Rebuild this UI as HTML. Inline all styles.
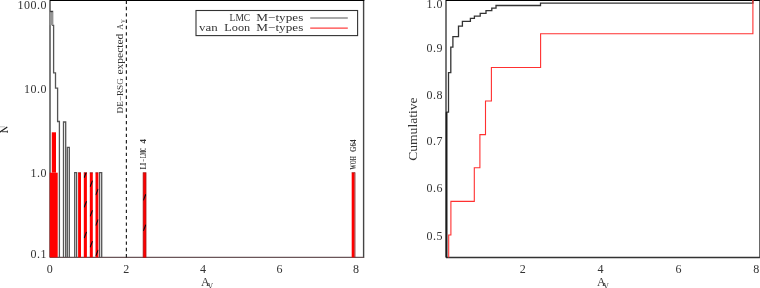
<!DOCTYPE html>
<html><head><meta charset="utf-8"><style>
html,body{margin:0;padding:0;background:#fff;width:760px;height:288px;overflow:hidden}
svg{display:block;position:absolute;left:0;top:0}
.t{filter:grayscale(1)}
text{font-family:"Liberation Serif", serif;fill:#333}
</style></head><body>
<svg width="760" height="288" viewBox="0 0 760 288">
<defs><clipPath id="hc"><rect x="83.8" y="172.7" width="3.10" height="84.70"/><rect x="89.8" y="172.7" width="3.00" height="84.70"/><rect x="95.5" y="172.7" width="2.90" height="84.70"/><rect x="143.15" y="172.7" width="2.85" height="84.70"/></clipPath></defs>
<rect width="760" height="288" fill="#fff"/>
<line x1="50.0" y1="0" x2="50.0" y2="257.4" stroke="#6e6e6e" stroke-width="1.8"/>
<line x1="363.6" y1="0" x2="363.6" y2="257.9" stroke="#444" stroke-width="1.4"/>
<line x1="50.0" y1="0.4" x2="364.3" y2="0.4" stroke="#000" stroke-width="1.4"/>
<line x1="50.0" y1="257.4" x2="363.6" y2="257.4" stroke="#6a5558" stroke-width="1.2"/>
<path d="M50,11.5 H52.6 V25.4 H53.6 V72.8 H55.5 V88.2 H57.6 V121.5 H59.4 V257.4" fill="none" stroke="#555" stroke-width="1.3"/>
<path d="M63.5,257.4 V122.0 H65.7 V257.4" fill="none" stroke="#555" stroke-width="1.3"/>
<path d="M67.3,257.4 V147.3 H69.3 V257.4" fill="none" stroke="#555" stroke-width="1.3"/>
<path d="M74.7,257.4 V172.6 H76.6 V257.4" fill="none" stroke="#555" stroke-width="1.3"/>
<path d="M99.6,257.4 V172.6 H101.7 V257.4" fill="none" stroke="#555" stroke-width="1.3"/>
<rect x="49.6" y="11.6" width="3.4" height="13.6" fill="#949494"/>
<line x1="50.2" y1="11.6" x2="52.8" y2="11.6" stroke="#333" stroke-width="1.1"/>
<rect x="49.75" y="172.7" width="7.95" height="84.70" fill="#ff0000"/>
<rect x="51.8" y="132.3" width="4.2" height="40.40" fill="#ff0000"/>
<rect x="78.1" y="172.7" width="2.90" height="84.70" fill="#ff0000"/>
<line x1="78.1" y1="172.75" x2="81.0" y2="172.75" stroke="#a01010" stroke-width="0.8"/>
<rect x="83.8" y="172.7" width="3.10" height="84.70" fill="#ff0000"/>
<line x1="83.8" y1="172.75" x2="86.9" y2="172.75" stroke="#a01010" stroke-width="0.8"/>
<rect x="89.8" y="172.7" width="3.00" height="84.70" fill="#ff0000"/>
<line x1="89.8" y1="172.75" x2="92.8" y2="172.75" stroke="#a01010" stroke-width="0.8"/>
<rect x="95.5" y="172.7" width="2.90" height="84.70" fill="#ff0000"/>
<line x1="95.5" y1="172.75" x2="98.4" y2="172.75" stroke="#a01010" stroke-width="0.8"/>
<rect x="143.15" y="172.75" width="2.85" height="84.65" fill="#ff0000" stroke="#a81414" stroke-width="0.8"/>
<rect x="351.7" y="172.7" width="2.85" height="84.70" fill="#ff0000"/>
<line x1="354.95" y1="172.4" x2="354.95" y2="257.4" stroke="#8a2020" stroke-width="0.9"/>
<line x1="351.7" y1="172.7" x2="354.9" y2="172.7" stroke="#a01010" stroke-width="0.8"/>
<g clip-path="url(#hc)" stroke="#0a0a10" stroke-width="1.15"><line x1="84.10" y1="177.70" x2="86.60" y2="171.50"/><line x1="84.10" y1="207.40" x2="86.60" y2="201.20"/><line x1="84.10" y1="238.10" x2="86.60" y2="231.90"/><line x1="90.05" y1="186.80" x2="92.55" y2="180.60"/><line x1="90.05" y1="216.40" x2="92.55" y2="210.20"/><line x1="90.05" y1="247.30" x2="92.55" y2="241.10"/><line x1="95.70" y1="195.10" x2="98.20" y2="188.90"/><line x1="95.70" y1="225.60" x2="98.20" y2="219.40"/><line x1="95.70" y1="256.10" x2="98.20" y2="249.90"/><line x1="143.32" y1="200.40" x2="145.82" y2="194.20"/><line x1="143.32" y1="230.90" x2="145.82" y2="224.70"/></g>
<path d="M-0.3,126.8 H5.0" stroke="#b8b8b8" stroke-width="0.9" fill="none"/>
<path d="M-0.5,132.4 L7.3,127.1" stroke="#222" stroke-width="1.25" fill="none"/>
<path d="M1.8,131.7 H7.6 M7.4,130.5 V132.8" stroke="#333" stroke-width="0.9" fill="none"/>
<line x1="126.4" y1="0.5" x2="126.4" y2="257.4" stroke="#222" stroke-width="1.2" stroke-dasharray="3.4 2.94"/>
<rect x="196" y="10.5" width="161.6" height="25.1" fill="#fff" stroke="#333" stroke-width="1.1"/>
<line x1="310.2" y1="18.0" x2="347.8" y2="18.0" stroke="#555" stroke-width="1.2"/>
<line x1="310.2" y1="28.1" x2="347.8" y2="28.1" stroke="#ff4040" stroke-width="1.2"/>
<line x1="446.0" y1="0" x2="446.0" y2="257.5" stroke="#555" stroke-width="1.6"/>
<line x1="759.9" y1="0" x2="759.9" y2="258.0" stroke="#444" stroke-width="1.4"/>
<line x1="446.0" y1="0.4" x2="759.9" y2="0.4" stroke="#000" stroke-width="1.4"/>
<line x1="446.0" y1="257.5" x2="759.9" y2="257.5" stroke="#333" stroke-width="1.3"/>
<path d="M446.7,257.5 V112.2 H448.5 V72.7 H450.8 V47.2 H452.9 V36.7 H458.5 V26.2 H462.4 V21.4 H470.4 V18.4 H474.4 V16.1 H480.2 V13.4 H486 V10.7 H491.8 V8.1 H496 V5.5 H540.5 V3.1 H752.9 V0.3" fill="none" stroke="#333" stroke-width="1.3"/>
<line x1="446.5" y1="112.2" x2="446.5" y2="257.5" stroke="#1a1a1a" stroke-width="1.5"/>
<path d="M448.7,257.5 V235 H450.9 V201.4 H474.3 V167.8 H479.9 V134.6 H485.5 V101.0 H491.4 V67.5 H540.6 V33.7 H752.9 V0" fill="none" stroke="#ff3030" stroke-width="1.1"/>
</svg>
<svg class="t" width="760" height="288" viewBox="0 0 760 288">
<text transform="translate(229.60,20.80)" font-size="11.4" text-anchor="start" textLength="20.6" lengthAdjust="spacingAndGlyphs">LMC</text>
<text transform="translate(256.30,20.80)" font-size="11.4" text-anchor="start" textLength="47.0" lengthAdjust="spacingAndGlyphs">M−types</text>
<text transform="translate(199.10,30.80)" font-size="11.4" text-anchor="start" textLength="18.6" lengthAdjust="spacingAndGlyphs">van</text>
<text transform="translate(224.30,30.80)" font-size="11.4" text-anchor="start" textLength="25.9" lengthAdjust="spacingAndGlyphs">Loon</text>
<text transform="translate(256.30,30.80)" font-size="11.4" text-anchor="start" textLength="47.0" lengthAdjust="spacingAndGlyphs">M−types</text>
<text transform="translate(122.80,113.40) rotate(-90)" font-size="9" text-anchor="start" fill="#1e1e1e" textLength="35.2" lengthAdjust="spacingAndGlyphs">DE−RSG</text>
<text transform="translate(122.90,74.60) rotate(-90)" font-size="9.3" text-anchor="start" fill="#1e1e1e" textLength="41.0" lengthAdjust="spacingAndGlyphs">expected</text>
<text transform="translate(122.80,29.80) rotate(-90)" font-size="9" text-anchor="start" fill="#1e1e1e" textLength="5.8" lengthAdjust="spacingAndGlyphs">A</text>
<text transform="translate(125.10,22.90) rotate(-90)" font-size="5.2" text-anchor="start" fill="#1e1e1e">V</text>
<text transform="translate(146.20,169.20) rotate(-90)" font-size="7.4" text-anchor="start" fill="#000" textLength="6.4" lengthAdjust="spacingAndGlyphs" font-weight="bold">LI</text>
<text transform="translate(146.20,161.70) rotate(-90)" font-size="7.4" text-anchor="start" fill="#000" textLength="2.6" lengthAdjust="spacingAndGlyphs" font-weight="bold">−</text>
<text transform="translate(146.20,158.00) rotate(-90)" font-size="7.4" text-anchor="start" fill="#000" textLength="10.2" lengthAdjust="spacingAndGlyphs" font-weight="bold">LMC</text>
<text transform="translate(146.20,143.60) rotate(-90)" font-size="7.4" text-anchor="start" fill="#000" textLength="4.5" lengthAdjust="spacingAndGlyphs" font-weight="bold">4</text>
<text transform="translate(355.95,169.40) rotate(-90)" font-size="7.2" text-anchor="start" fill="#000" textLength="13.1" lengthAdjust="spacingAndGlyphs" font-weight="bold">WOH</text>
<text transform="translate(355.95,152.00) rotate(-90)" font-size="7.2" text-anchor="start" fill="#000" textLength="12.4" lengthAdjust="spacingAndGlyphs" font-weight="bold">G64</text>
<text transform="translate(46.90,8.70)" font-size="12" text-anchor="end" letter-spacing="0.5">100.0</text>
<text transform="translate(46.90,93.20)" font-size="12" text-anchor="end" letter-spacing="0.5">10.0</text>
<text transform="translate(46.90,177.20)" font-size="12" text-anchor="end" letter-spacing="0.5">1.0</text>
<text transform="translate(46.90,257.80)" font-size="12" text-anchor="end" letter-spacing="0.5">0.1</text>
<text transform="translate(50.05,272.70)" font-size="12" text-anchor="middle" letter-spacing="0.5">0</text>
<text transform="translate(126.59,272.70)" font-size="12" text-anchor="middle" letter-spacing="0.5">2</text>
<text transform="translate(203.13,272.70)" font-size="12" text-anchor="middle" letter-spacing="0.5">4</text>
<text transform="translate(279.67,272.70)" font-size="12" text-anchor="middle" letter-spacing="0.5">6</text>
<text transform="translate(356.21,272.70)" font-size="12" text-anchor="middle" letter-spacing="0.5">8</text>
<text transform="translate(200.90,285.90)" font-size="12" text-anchor="start" fill="#111">A</text>
<text transform="translate(207.70,288.70)" font-size="7.4" text-anchor="start" fill="#111">V</text>
<text transform="translate(442.90,7.80)" font-size="12" text-anchor="end" letter-spacing="0.5">1.0</text>
<text transform="translate(442.90,51.70)" font-size="12" text-anchor="end" letter-spacing="0.5">0.9</text>
<text transform="translate(442.90,98.50)" font-size="12" text-anchor="end" letter-spacing="0.5">0.8</text>
<text transform="translate(442.90,145.40)" font-size="12" text-anchor="end" letter-spacing="0.5">0.7</text>
<text transform="translate(442.90,192.40)" font-size="12" text-anchor="end" letter-spacing="0.5">0.6</text>
<text transform="translate(442.90,239.60)" font-size="12" text-anchor="end" letter-spacing="0.5">0.5</text>
<text transform="translate(522.90,272.70)" font-size="12" text-anchor="middle" letter-spacing="0.5">2</text>
<text transform="translate(600.78,272.70)" font-size="12" text-anchor="middle" letter-spacing="0.5">4</text>
<text transform="translate(678.66,272.70)" font-size="12" text-anchor="middle" letter-spacing="0.5">6</text>
<text transform="translate(756.54,272.70)" font-size="12" text-anchor="middle" letter-spacing="0.5">8</text>
<text transform="translate(597.10,285.90)" font-size="12" text-anchor="start" fill="#111">A</text>
<text transform="translate(603.60,288.70)" font-size="7.4" text-anchor="start" fill="#111">V</text>
<text transform="translate(417.00,160.80) rotate(-90)" font-size="11.8" text-anchor="start" fill="#505050" textLength="63.4" lengthAdjust="spacingAndGlyphs">Cumulative</text>
</svg>
</body></html>
